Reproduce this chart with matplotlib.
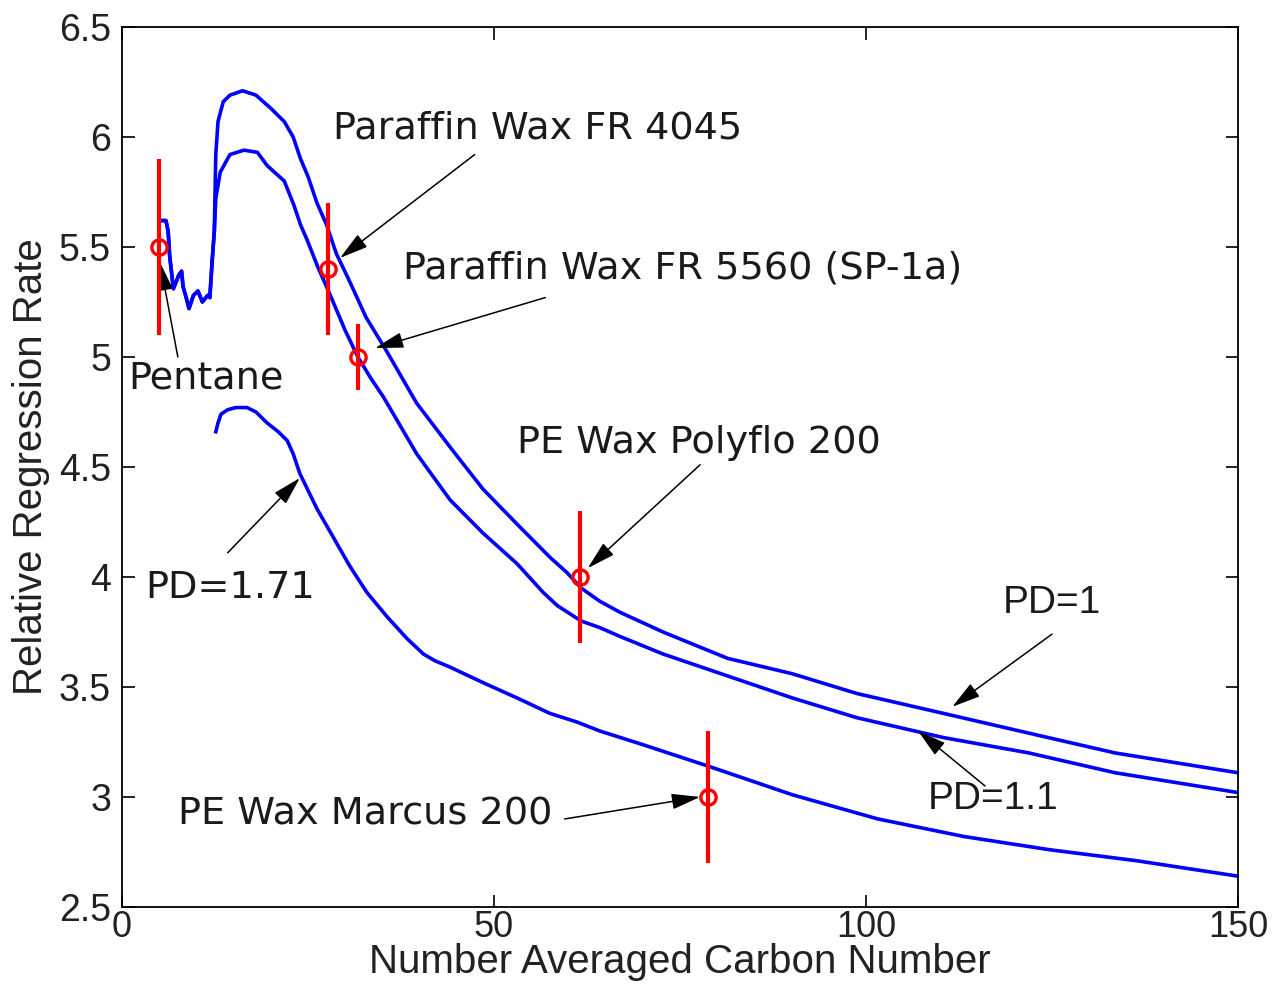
import matplotlib
matplotlib.use('Agg')
import matplotlib.pyplot as plt

# PD=1 curve (the pentane wiggle at the start is shared with PD=1.1)
x_pd1 = [5.0, 5.3, 5.9, 6.2, 6.4, 6.9, 7.6, 8.0, 8.2, 8.7, 9.0, 9.6, 10.2, 10.8,
         11.5, 11.8, 12.1, 12.4, 12.6, 12.9, 13.6, 14.5, 16.2, 18.0, 20.0, 21.8,
         23.0, 24.0, 25.0, 26.2, 27.5, 28.8, 30.5, 32.8, 35.5, 39.6, 44.1, 48.5,
         53.1, 57.5, 59.8, 61.7, 64.2, 66.9, 72.7, 81.4, 90.1, 98.8, 110.4, 121.9,
         133.5, 150.0]
y_pd1 = [5.62, 5.62, 5.62, 5.57, 5.46, 5.31, 5.37, 5.39, 5.32, 5.26, 5.22, 5.28,
         5.30, 5.25, 5.28, 5.27, 5.43, 5.57, 5.92, 6.07, 6.16, 6.19, 6.21, 6.19,
         6.13, 6.07, 6.00, 5.90, 5.82, 5.70, 5.60, 5.47, 5.35, 5.18, 5.03, 4.79,
         4.59, 4.40, 4.24, 4.09, 4.02, 3.95, 3.89, 3.84, 3.75, 3.63, 3.56, 3.47,
         3.38, 3.29, 3.20, 3.11]

x_pd11 = [5.0, 5.3, 5.9, 6.2, 6.4, 6.9, 7.6, 8.0, 8.2, 8.7, 9.0, 9.6, 10.2, 10.8,
          11.5, 11.8, 12.1, 12.4, 12.6, 13.2, 14.5, 16.4, 18.2, 19.5, 21.8, 23.1,
          24.0, 24.9, 26.3, 28.0, 30.0, 31.7, 33.5, 35.1, 39.6, 44.1, 48.5, 53.1,
          56.6, 58.5, 61.7, 64.2, 66.9, 72.7, 81.4, 90.1, 98.8, 110.4, 121.9,
          133.5, 150.0]
y_pd11 = [5.62, 5.62, 5.62, 5.57, 5.46, 5.31, 5.37, 5.39, 5.32, 5.26, 5.22, 5.28,
          5.30, 5.25, 5.28, 5.27, 5.43, 5.57, 5.72, 5.84, 5.92, 5.94, 5.93, 5.87,
          5.80, 5.69, 5.60, 5.53, 5.41, 5.28, 5.12, 5.00, 4.90, 4.82, 4.56, 4.35,
          4.20, 4.06, 3.93, 3.87, 3.80, 3.77, 3.73, 3.65, 3.55, 3.45, 3.36, 3.27,
          3.20, 3.11, 3.02]

x_pd171 = [12.6, 12.9, 13.3, 14.2, 15.3, 16.8, 18.0, 19.5, 21.0, 22.2, 23.0, 23.9,
           26.2, 28.4, 30.6, 32.9, 35.6, 38.3, 40.5, 42.0, 44.1, 48.5, 53.1, 57.5,
           61.2, 64.2, 69.8, 78.8, 90.1, 101.6, 113.2, 124.7, 136.4, 150.0]
y_pd171 = [4.66, 4.70, 4.74, 4.76, 4.77, 4.77, 4.75, 4.70, 4.66, 4.62, 4.56, 4.47,
           4.31, 4.18, 4.05, 3.93, 3.82, 3.72, 3.65, 3.62, 3.59, 3.52, 3.45, 3.38,
           3.34, 3.30, 3.24, 3.14, 3.01, 2.90, 2.82, 2.76, 2.71, 2.64]

# measured points with error bars
meas_x = [5.0, 27.7, 31.7, 61.6, 78.8]
meas_y = [5.5, 5.4, 5.0, 4.0, 3.0]
meas_err = [0.4, 0.3, 0.15, 0.3, 0.3]

axis_font = ['Liberation Sans', 'DejaVu Sans']

fig = plt.figure(figsize=(12.74, 9.84), dpi=100)
ax = fig.add_axes([0.0958, 0.0783, 0.8759, 0.8943])

ax.plot(x_pd1, y_pd1, color='#0000ff', lw=2.6)
ax.plot(x_pd11, y_pd11, color='#0000ff', lw=2.6)
ax.plot(x_pd171, y_pd171, color='#0000ff', lw=2.6)

ax.errorbar(meas_x, meas_y, yerr=meas_err, fmt='o', color='red', ecolor='red',
            elinewidth=3, capsize=0, ms=11, mfc='none', mec='red', mew=2.4, zorder=5)

ax.set_xlim(0, 150)
ax.set_ylim(2.5, 6.5)
ax.set_xticks([0, 50, 100, 150])
ax.set_yticks([2.5, 3, 3.5, 4, 4.5, 5, 5.5, 6, 6.5])
ax.set_yticklabels(['2.5', '3', '3.5', '4', '4.5', '5', '5.5', '6', '6.5'])

ax.tick_params(direction='in', length=9, width=1.2, top=True, right=True)
ax.tick_params(axis='y', pad=8)
ax.tick_params(axis='x', pad=2)
for lab in ax.get_yticklabels():
    lab.set_family(axis_font)
    lab.set_fontsize(27)
    lab.set_color('#222222')
for lab in ax.get_xticklabels():
    lab.set_family(axis_font)
    lab.set_fontsize(26)
    lab.set_color('#222222')
for sp in ax.spines.values():
    sp.set_linewidth(1.3)

ax.set_xlabel('Number Averaged Carbon Number', family=axis_font, fontsize=29,
              color='#222222', labelpad=-1)
ax.set_ylabel('Relative Regression Rate', family=axis_font,
              fontsize=29, color='#222222', labelpad=6)

arrow = dict(arrowstyle='-|>,head_length=0.8,head_width=0.22', color='black',
             lw=1.1, mutation_scale=22, shrinkA=0, shrinkB=0)
ann_font = dict(family='DejaVu Sans', fontsize=27.5, color='#1a1a1a', va='center', ha='left')
pd_font = dict(family=axis_font, fontsize=28, color='#1a1a1a', va='center', ha='left')

# (label, text pos, arrow tail, arrow head, style)
labels = [
    ('Paraffin Wax FR 4045', (28.4, 6.04), (47.4, 5.92), (29.3, 5.45), ann_font),
    ('Paraffin Wax FR 5560 (SP-1a)', (37.8, 5.40), (56.9, 5.27), (34.0, 5.04), ann_font),
    ('Pentane', (0.8, 4.90), (7.5, 5.00), (5.1, 5.43), ann_font),
    ('PE Wax Polyflo 200', (53.1, 4.61), (77.7, 4.51), (62.6, 4.04), ann_font),
    ('PD=1.71', (3.1, 3.95), (14.2, 4.11), (23.9, 4.45), ann_font),
    ('PE Wax Marcus 200', (7.5, 2.92), (59.5, 2.90), (77.7, 3.00), ann_font),
    ('PD=1', (118.4, 3.88), (125.0, 3.74), (111.6, 3.41), pd_font),
    ('PD=1.1', (108.3, 2.99), (116.0, 3.05), (107.0, 3.30), pd_font),
]
for text, tpos, tail, head, style in labels:
    ax.text(tpos[0], tpos[1], text, **style)
    ax.annotate('', xy=head, xytext=tail, arrowprops=arrow)

fig.savefig('out.png', dpi=100)
